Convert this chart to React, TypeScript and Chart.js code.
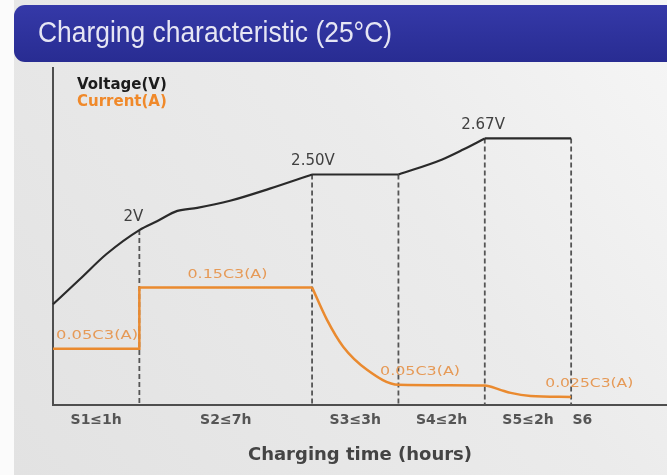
import React, { useEffect, useRef } from "react";
import { Chart, registerables } from "chart.js";

Chart.register(...registerables);

// ---- data (chart units: x = stage scale, y = relative level 0..100) ----
const stageLabels = ["S1≤1h", "S2≤7h", "S3≤3h", "S4≤2h", "S5≤2h", "S6"];
const stageLabelPos = [0.5, 2, 3.5, 4.5, 5.5, 6.13];
const dividerX = [1, 3, 4, 5, 6];
const dividerTop = [51.9, 68.4, 68.4, 79.1, 79.1];

// voltage curve, read per stage
const voltRiseX = [0, 0.31, 0.62, 1, 1.21, 1.44, 1.67, 2.05, 2.51, 3];
const voltRiseY = [29.9, 37.3, 44.8, 51.9, 54.6, 57.6, 58.5, 60.6, 64.2, 68.4];
const voltHold1X = [3, 4];
const voltHold1Y = [68.4, 68.4];
const voltRise2X = [4, 4.5, 4.75, 5];
const voltRise2Y = [68.4, 72.8, 75.8, 79.1];
const voltHold2X = [5, 6];
const voltHold2Y = [79.1, 79.1];

// current curve
const currentStepX = [0, 1, 1, 3];
const currentStepY = [16.7, 16.7, 34.9, 34.9];
const currentDecayX = [3, 3.17, 3.36, 3.64, 4, 5, 5.18, 5.3, 5.53, 6];
const currentDecayY = [34.9, 25.4, 17.3, 10.4, 6.0, 5.8, 4.5, 3.6, 2.7, 2.4];

const voltageLabels = ["2V", "2.50V", "2.67V"];
const voltageLabelX = [0.93, 3.01, 4.98];
const voltageLabelY = [51.9, 68.4, 79.1];

const currentLabels = ["0.05C3(A)", "0.15C3(A)", "0.05C3(A)", "0.025C3(A)"];
const currentLabelX = [0.51, 2.02, 4.25, 6.21];
const currentLabelY = [16.7, 34.9, 6.0, 2.4];

const titleText = "Charging characteristic (25°C)";
const xTitle = "Charging time (hours)";
const legendItems = ["Voltage(V)", "Current(A)"];

const pts = (xs: number[], ys: number[]) => xs.map((x, i) => ({ x, y: ys[i] }));

const VOLT = "#2a2a2a";
const CURR = "#ea8a2f";
const DASH = "#555555";

function fitText(ctx: CanvasRenderingContext2D, text: string, cx: number, cy: number, width: number) {
  const w = ctx.measureText(text).width;
  const s = width / w;
  ctx.save();
  ctx.translate(cx, cy);
  ctx.scale(s, 1);
  ctx.fillText(text, 0, 0);
  ctx.restore();
}

const decor = {
  id: "decor",
  beforeDraw(chart: any) {
    const ctx = chart.ctx as CanvasRenderingContext2D;
    const W = chart.width, H = chart.height;
    ctx.save();
    ctx.fillStyle = "#fbfbfb";
    ctx.fillRect(0, 0, W, H);
    const g = ctx.createLinearGradient(14, H, W, 0);
    g.addColorStop(0, "#e2e2e2");
    g.addColorStop(0.6, "#ebebeb");
    g.addColorStop(1, "#f6f6f6");
    ctx.fillStyle = g;
    ctx.fillRect(14, 0, W - 14, H);
    // banner
    const bg = ctx.createLinearGradient(0, 5, 0, 62);
    bg.addColorStop(0, "#3539a8");
    bg.addColorStop(1, "#282c92");
    ctx.fillStyle = bg;
    ctx.beginPath();
    (ctx as any).roundRect(14, 5, W + 20, 57, 11);
    ctx.fill();
    ctx.fillStyle = "#e6e6f4";
    ctx.font = '30px "Liberation Sans", Arial, sans-serif';
    ctx.textBaseline = "middle";
    ctx.textAlign = "left";
    const tw = ctx.measureText(titleText).width;
    ctx.translate(38, 34);
    ctx.scale(354 / tw, 1);
    ctx.fillText(titleText, 0, 0);
    ctx.restore();
  },
  afterDatasetsDraw(chart: any) {
    const ctx = chart.ctx as CanvasRenderingContext2D;
    const xs = chart.scales.x, ys = chart.scales.y;
    ctx.save();
    ctx.textAlign = "center";
    ctx.textBaseline = "middle";
    // voltage labels
    ctx.fillStyle = "#404040";
    ctx.font = '15px "DejaVu Sans", sans-serif';
    voltageLabels.forEach((t, i) => {
      const px = xs.getPixelForValue(voltageLabelX[i]);
      const py = ys.getPixelForValue(voltageLabelY[i]) - 13;
      ctx.fillText(t, px, py);
    });
    // current labels
    ctx.fillStyle = "#e69a57";
    ctx.font = '13px "DejaVu Sans", sans-serif';
    const widths = [82, 80, 80, 88];
    currentLabels.forEach((t, i) => {
      const px = xs.getPixelForValue(currentLabelX[i]);
      const py = ys.getPixelForValue(currentLabelY[i]) - 13;
      fitText(ctx, t, px, py, widths[i]);
    });
    // legend
    ctx.textAlign = "left";
    ctx.font = 'bold 15px "DejaVu Sans", sans-serif';
    ctx.fillStyle = "#1c1c1c";
    ctx.fillText(legendItems[0], 77, 85);
    ctx.fillStyle = "#f0892a";
    ctx.fillText(legendItems[1], 77, 102);
    ctx.restore();
  },
};

export default function App() {
  const ref = useRef<HTMLCanvasElement | null>(null);
  useEffect(() => {
    if (!ref.current) return;
    const dashSets = dividerX.map((x, i) => ({
      data: [{ x, y: dividerTop[i] }, { x, y: 0 }],
      borderColor: DASH,
      borderWidth: 1.8,
      borderDash: [5, 3],
      pointRadius: 0,
      tension: 0,
      clip: false as any,
      order: 3,
    }));
    const voltSeg = (xs: number[], ys: number[], curved: boolean) => ({
      label: "Voltage",
      data: pts(xs, ys),
      borderColor: VOLT,
      borderWidth: 2.2,
      pointRadius: 0,
      cubicInterpolationMode: curved ? "monotone" : "default",
      tension: 0,
      clip: false as any,
      order: 1,
    });
    const chart = new Chart(ref.current, {
      type: "line",
      data: {
        datasets: [
          voltSeg(voltRiseX, voltRiseY, true),
          voltSeg(voltHold1X, voltHold1Y, false),
          voltSeg(voltRise2X, voltRise2Y, true),
          voltSeg(voltHold2X, voltHold2Y, false),
          {
            label: "Current",
            data: pts(currentStepX, currentStepY),
            borderColor: CURR,
            borderWidth: 2.5,
            pointRadius: 0,
            tension: 0,
            clip: false as any,
            order: 2,
          },
          {
            label: "Current decay",
            data: pts(currentDecayX, currentDecayY),
            borderColor: CURR,
            borderWidth: 2.5,
            pointRadius: 0,
            cubicInterpolationMode: "monotone",
            clip: false as any,
            order: 2,
          },
          ...dashSets,
        ] as any,
      },
      options: {
        animation: false,
        responsive: true,
        maintainAspectRatio: false,
        layout: { padding: { left: 53, top: 68, right: 0, bottom: 0 } },
        plugins: { legend: { display: false }, tooltip: { enabled: false }, title: { display: false } },
        scales: {
          x: {
            type: "linear",
            min: 0,
            max: 7.11,
            grid: { display: false, drawTicks: false },
            border: { display: true, color: "#4e4e4e", width: 2 },
            afterBuildTicks: (s: any) => {
              s.ticks = stageLabelPos.map((v) => ({ value: v }));
            },
            ticks: {
              autoSkip: false,
              maxRotation: 0,
              padding: 7,
              color: "#555",
              font: { family: '"DejaVu Sans", sans-serif', weight: "bold", size: 14 },
              callback: (_v: any, i: number) => stageLabels[i],
            },
            title: {
              display: true,
              text: xTitle,
              color: "#444",
              font: { family: '"DejaVu Sans", sans-serif', weight: "bold", size: 18 },
              padding: { top: 0, bottom: 9 },
            },
            afterFit: (s: any) => {
              s.height = 70;
            },
          } as any,
          y: {
            type: "linear",
            min: 0,
            max: 100,
            grid: { display: false, drawTicks: false },
            border: { display: true, color: "#4e4e4e", width: 2 },
            ticks: { display: false },
            afterFit: (s: any) => {
              s.width = 0;
            },
          } as any,
        },
      },
      plugins: [decor],
    });
    return () => chart.destroy();
  }, []);
  return (
    <div style={{ position: "fixed", left: 0, top: 0, width: 667, height: 475 }}>
      <canvas ref={ref} />
    </div>
  );
}
